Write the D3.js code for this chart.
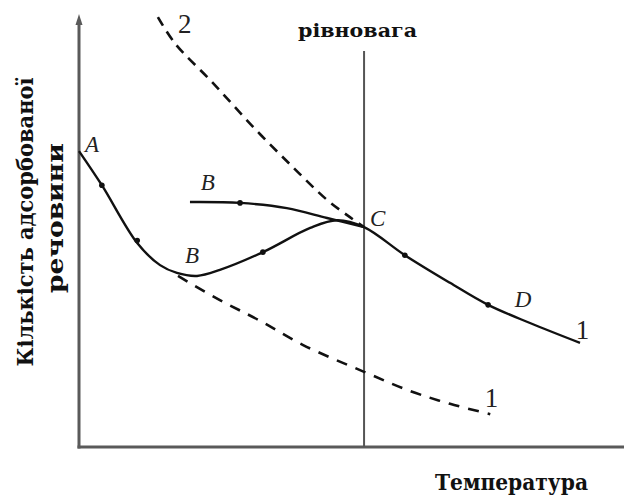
<!DOCTYPE html>
<html>
<head>
<meta charset="utf-8">
<script src="https://cdn.jsdelivr.net/npm/d3@7"></script>
<style>
  html, body { margin: 0; padding: 0; background: #fff; }
  svg { display: block; }
</style>
</head>
<body>
<svg id="chart" width="624" height="497"></svg>
<script>
// ---- data (arbitrary units: x = temperature, y = amount adsorbed) ----
const curve1Solid = [
  [0, 68.5], [4.2, 60.6], [10.7, 47.2], [14.9, 42.1], [18.0, 40.3], [21.7, 39.6],
  [25.9, 41.0], [33.8, 45.1], [42.5, 50.7], [47.4, 52.5], [52.4, 50.9],
  [59.9, 44.4], [68.2, 38.0], [75.2, 32.9], [82.9, 28.7], [92.1, 24.1]
];
const upperBranch = [
  [20.4, 56.7], [29.6, 56.5], [38.2, 55.3], [45.6, 53.0], [52.4, 50.9]
];
const curve2Dashed = [
  [14.5, 99.5], [17.6, 93.5], [24.6, 84.3], [32.0, 74.1], [39.3, 64.8],
  [45.6, 57.2], [49.8, 53.2], [52.4, 50.9]
];
const curve1Dashed = [
  [18.2, 39.6], [25.9, 34.0], [33.3, 29.2], [41.2, 23.6], [52.4, 17.4],
  [60.8, 13.0], [68.2, 10.0], [75.6, 7.6]
];
const equilibriumX = 52.4;
const markerPoints = [
  [4.2, 60.6], [10.7, 47.8], [33.8, 45.1], [29.6, 56.5], [59.9, 44.4], [75.2, 32.9]
];
const pointLabels = [
  { text: "A", x: 1.1, y: 68.3 },
  { text: "B", x: 22.4, y: 59.5 },
  { text: "B", x: 19.5, y: 42.6 },
  { text: "C", x: 53.5, y: 51.2 },
  { text: "D", x: 80.1, y: 32.4 }
];
const curveLabels = [
  { text: "2", x: 18.2, y: 95.8 },
  { text: "1", x: 91.3, y: 25.0 },
  { text: "1", x: 74.6, y: 9.2 }
];
const xAxisTitle = "Температура";
const yAxisTitle = ["Кількість адсорбованої", "речовини"];
const equilibriumTitle = "рівновага";

// ---- layout ----
const svg = d3.select("#chart");
const x = d3.scaleLinear().domain([0, 100]).range([79, 623]);
const y = d3.scaleLinear().domain([0, 100]).range([447, 15]);

const defs = svg.append("defs");
defs.append("marker")
  .attr("id", "arrowY")
  .attr("viewBox", "0 0 10 10")
  .attr("refX", 5).attr("refY", 10)
  .attr("markerWidth", 7).attr("markerHeight", 9)
  .attr("markerUnits", "userSpaceOnUse")
  .attr("orient", "auto-start-reverse")
  .append("path").attr("d", "M0,10 L5,0 L10,10 Z").attr("fill", "#555");

const axisColor = "#5a5a5a";

// axes (drawn from scales)
svg.append("line")
  .attr("x1", x(0)).attr("x2", x(0))
  .attr("y1", y(0) + 1.5).attr("y2", y(100) + 8)
  .attr("stroke", axisColor).attr("stroke-width", 3);
svg.append("path")
  .attr("d", `M${x(0) - 3.5},${y(100) + 10} L${x(0)},${y(100) - 1} L${x(0) + 3.5},${y(100) + 10} Z`)
  .attr("fill", axisColor);
svg.append("line")
  .attr("x1", x(0) - 1.5).attr("x2", x(100) + 1)
  .attr("y1", y(0)).attr("y2", y(0))
  .attr("stroke", axisColor).attr("stroke-width", 3);

// equilibrium line
svg.append("line")
  .attr("x1", x(equilibriumX)).attr("x2", x(equilibriumX))
  .attr("y1", y(0)).attr("y2", 51)
  .attr("stroke", "#555").attr("stroke-width", 2);

const line = d3.line()
  .x(d => x(d[0])).y(d => y(d[1]))
  .curve(d3.curveCatmullRom.alpha(0.5));

svg.append("path").datum(curve2Dashed)
  .attr("d", line).attr("fill", "none")
  .attr("stroke", "#111").attr("stroke-width", 2.6)
  .attr("stroke-dasharray", "10,7");

svg.append("path").datum(curve1Dashed)
  .attr("d", line).attr("fill", "none")
  .attr("stroke", "#111").attr("stroke-width", 2.6)
  .attr("stroke-dasharray", "11,9");

svg.append("path").datum(curve1Solid)
  .attr("d", line).attr("fill", "none")
  .attr("stroke", "#111").attr("stroke-width", 2.4);

svg.append("path").datum(upperBranch)
  .attr("d", line).attr("fill", "none")
  .attr("stroke", "#111").attr("stroke-width", 2.4);

svg.selectAll("circle.mk").data(markerPoints).enter()
  .append("circle").attr("class", "mk")
  .attr("cx", d => x(d[0])).attr("cy", d => y(d[1]))
  .attr("r", 2.8).attr("fill", "#111");

// labels
svg.selectAll("text.pt").data(pointLabels).enter()
  .append("text").attr("class", "pt")
  .attr("x", d => x(d.x)).attr("y", d => y(d.y))
  .attr("font-family", "'Liberation Serif', serif")
  .attr("font-style", "italic")
  .attr("font-size", 23)
  .attr("fill", "#222")
  .text(d => d.text);

svg.selectAll("text.cv").data(curveLabels).enter()
  .append("text").attr("class", "cv")
  .attr("x", d => x(d.x)).attr("y", d => y(d.y))
  .attr("font-family", "'Liberation Serif', serif")
  .attr("font-size", 27)
  .attr("fill", "#222")
  .text(d => d.text);

const boldFont = "'DejaVu Serif', serif";

svg.append("text")
  .attr("x", 298).attr("y", 37)
  .attr("font-family", boldFont).attr("font-weight", "bold")
  .attr("font-size", 19)
  .attr("textLength", 119).attr("lengthAdjust", "spacingAndGlyphs")
  .attr("fill", "#111")
  .text(equilibriumTitle);

svg.append("text")
  .attr("x", 435).attr("y", 490)
  .attr("font-family", boldFont).attr("font-weight", "bold")
  .attr("font-size", 22)
  .attr("textLength", 153).attr("lengthAdjust", "spacingAndGlyphs")
  .attr("fill", "#111")
  .text(xAxisTitle);

svg.append("text")
  .attr("transform", "translate(33,222) rotate(-90)")
  .attr("text-anchor", "middle")
  .attr("font-family", boldFont).attr("font-weight", "bold")
  .attr("font-size", 22)
  .attr("textLength", 289).attr("lengthAdjust", "spacingAndGlyphs")
  .attr("fill", "#111")
  .text(yAxisTitle[0]);

svg.append("text")
  .attr("transform", "translate(63,218) rotate(-90)")
  .attr("text-anchor", "middle")
  .attr("font-family", boldFont).attr("font-weight", "bold")
  .attr("font-size", 22)
  .attr("textLength", 150).attr("lengthAdjust", "spacingAndGlyphs")
  .attr("fill", "#111")
  .text(yAxisTitle[1]);
</script>
</body>
</html>
